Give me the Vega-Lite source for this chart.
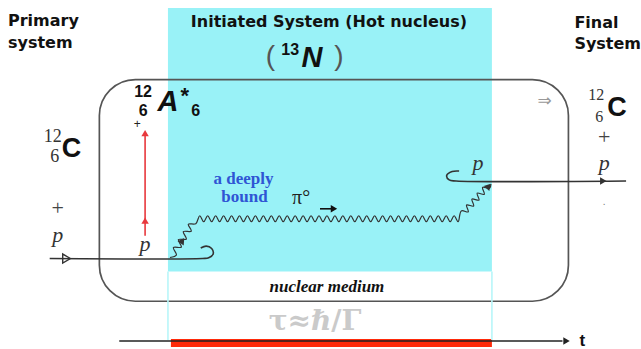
{
  "$schema": "https://vega.github.io/schema/vega-lite/v6.json",
  "width": 641,
  "height": 349,
  "autosize": {"type": "fit", "contains": "padding"},
  "padding": 0,
  "background": "white",
  "config": {"view": {"stroke": null}},
  "datasets": {
    "cyan": [{"x": 169, "x2": 495, "y": 8, "y2": 273}],
    "redbar": [{"x": 172, "x2": 495, "y": 341, "y2": 349}],
    "box": [{"x": 100, "x2": 572, "y": 80, "y2": 303}],
    "paths": [
      {"g": "cy1", "i": 0, "x": 169, "y": 273}, {"g": "cy1", "i": 1, "x": 169, "y": 342},
      {"g": "cy2", "i": 0, "x": 495, "y": 273}, {"g": "cy2", "i": 1, "x": 495, "y": 342},
      {"g": "inL", "i": 0, "x": 50, "y": 260}, {"g": "inL", "i": 1, "x": 204, "y": 260},
      {"g": "inL", "i": 2, "x": 210, "y": 259.3}, {"g": "inL", "i": 3, "x": 214.5, "y": 255.5},
      {"g": "inL", "i": 4, "x": 213, "y": 250}, {"g": "inL", "i": 5, "x": 207.5, "y": 247.5},
      {"g": "inL", "i": 6, "x": 202, "y": 249.5},
      {"g": "outR", "i": 0, "x": 462, "y": 172}, {"g": "outR", "i": 1, "x": 455, "y": 172.5},
      {"g": "outR", "i": 2, "x": 449.5, "y": 176.5}, {"g": "outR", "i": 3, "x": 452, "y": 181},
      {"g": "outR", "i": 4, "x": 459, "y": 182}, {"g": "outR", "i": 5, "x": 630, "y": 182},
      {"g": "time", "i": 0, "x": 120, "y": 343}, {"g": "time", "i": 1, "x": 566, "y": 343},
      {"g": "redA", "i": 0, "x": 146, "y": 133}, {"g": "redA", "i": 1, "x": 146, "y": 237},
      {"g": "piA", "i": 0, "x": 322, "y": 210}, {"g": "piA", "i": 1, "x": 334, "y": 210}
    ],
    "wave": [
      {"i": 0, "x": 171, "y": 259}, {"i": 1, "x": 177.5, "y": 256.5}, {"i": 2, "x": 174.5, "y": 249},
      {"i": 3, "x": 182.5, "y": 248.5}, {"i": 4, "x": 179.5, "y": 241}, {"i": 5, "x": 187.5, "y": 240.5},
      {"i": 6, "x": 184.5, "y": 233}, {"i": 7, "x": 192.5, "y": 232.5}, {"i": 8, "x": 189.5, "y": 225.5},
      {"i": 9, "x": 197, "y": 225},
      {"i": 10, "x": 201, "y": 217}, {"i": 11, "x": 205, "y": 223}, {"i": 12, "x": 209, "y": 217},
      {"i": 13, "x": 213, "y": 223}, {"i": 14, "x": 217, "y": 217}, {"i": 15, "x": 221, "y": 223},
      {"i": 16, "x": 225, "y": 217}, {"i": 17, "x": 229, "y": 223}, {"i": 18, "x": 233, "y": 217},
      {"i": 19, "x": 237, "y": 223}, {"i": 20, "x": 241, "y": 217}, {"i": 21, "x": 245, "y": 223},
      {"i": 22, "x": 249, "y": 217}, {"i": 23, "x": 253, "y": 223}, {"i": 24, "x": 257, "y": 217},
      {"i": 25, "x": 261, "y": 223}, {"i": 26, "x": 265, "y": 217}, {"i": 27, "x": 269, "y": 223},
      {"i": 28, "x": 273, "y": 217}, {"i": 29, "x": 277, "y": 223}, {"i": 30, "x": 281, "y": 217},
      {"i": 31, "x": 285, "y": 223}, {"i": 32, "x": 289, "y": 217}, {"i": 33, "x": 293, "y": 223},
      {"i": 34, "x": 297, "y": 217}, {"i": 35, "x": 301, "y": 223}, {"i": 36, "x": 305, "y": 217},
      {"i": 37, "x": 309, "y": 223}, {"i": 38, "x": 313, "y": 217}, {"i": 39, "x": 317, "y": 223},
      {"i": 40, "x": 321, "y": 217}, {"i": 41, "x": 325, "y": 223}, {"i": 42, "x": 329, "y": 217},
      {"i": 43, "x": 333, "y": 223}, {"i": 44, "x": 337, "y": 217}, {"i": 45, "x": 341, "y": 223},
      {"i": 46, "x": 345, "y": 217}, {"i": 47, "x": 349, "y": 223}, {"i": 48, "x": 353, "y": 217},
      {"i": 49, "x": 357, "y": 223}, {"i": 50, "x": 361, "y": 217}, {"i": 51, "x": 365, "y": 223},
      {"i": 52, "x": 369, "y": 217}, {"i": 53, "x": 373, "y": 223}, {"i": 54, "x": 377, "y": 217},
      {"i": 55, "x": 381, "y": 223}, {"i": 56, "x": 385, "y": 217}, {"i": 57, "x": 389, "y": 223},
      {"i": 58, "x": 393, "y": 217}, {"i": 59, "x": 397, "y": 223}, {"i": 60, "x": 401, "y": 217},
      {"i": 61, "x": 405, "y": 223}, {"i": 62, "x": 409, "y": 217}, {"i": 63, "x": 413, "y": 223},
      {"i": 64, "x": 417, "y": 217}, {"i": 65, "x": 421, "y": 223}, {"i": 66, "x": 425, "y": 217},
      {"i": 67, "x": 429, "y": 223}, {"i": 68, "x": 433, "y": 217}, {"i": 69, "x": 437, "y": 223},
      {"i": 70, "x": 441, "y": 217}, {"i": 71, "x": 445, "y": 223}, {"i": 72, "x": 449, "y": 217},
      {"i": 73, "x": 453, "y": 223}, {"i": 74, "x": 457, "y": 217},
      {"i": 75, "x": 461, "y": 223}, {"i": 76, "x": 464.2, "y": 212.1}, {"i": 77, "x": 471.2, "y": 213.1},
      {"i": 78, "x": 469.5, "y": 206.2}, {"i": 79, "x": 476.6, "y": 207.2}, {"i": 80, "x": 474.9, "y": 200.2},
      {"i": 81, "x": 482, "y": 201.3}, {"i": 82, "x": 480.2, "y": 194.3}, {"i": 83, "x": 487.3, "y": 195.4},
      {"i": 84, "x": 485.6, "y": 188.4}, {"i": 85, "x": 492.7, "y": 189.4}, {"i": 86, "x": 494, "y": 185}
    ],
    "heads": [
      {"g": "outR", "x": 606, "y": 182, "dir": 90},
      {"g": "time", "x": 569, "y": 343, "dir": 90},
      {"g": "piA", "x": 335, "y": 210, "dir": 90},
      {"g": "redA", "x": 146, "y": 135, "dir": 0},
      {"g": "redA", "x": 146, "y": 223, "dir": 0},
      {"g": "inL", "x": 183, "y": 243, "dir": 34},
      {"g": "inL", "x": 491, "y": 188, "dir": 41}
    ],
    "openhead": [{"x": 67, "y": 260}],
    "head": [
      {"x": 8, "y": 26, "t": "Primary"},
      {"x": 8, "y": 48, "t": "system"},
      {"x": 578, "y": 28, "t": "Final"},
      {"x": 578, "y": 49, "t": "System"},
      {"x": 192, "y": 27, "t": "Initiated System (Hot nucleus)"}
    ],
    "bigC": [{"x": 72, "y": 158, "t": "C"}, {"x": 621, "y": 117, "t": "C"}],
    "bigIt": [{"x": 169, "y": 112, "t": "A"}, {"x": 314, "y": 67, "t": "N"}],
    "smallNum": [
      {"x": 144, "y": 98, "t": "12"}, {"x": 144, "y": 117, "t": "6"},
      {"x": 197, "y": 117, "t": "6"}, {"x": 292, "y": 55, "t": "13"}
    ],
    "star": [{"x": 186, "y": 104, "t": "*"}],
    "serifNumL": [{"x": 53, "y": 143, "t": "12"}, {"x": 55, "y": 163, "t": "6"}],
    "serifNumR": [{"x": 600, "y": 101, "t": "12"}, {"x": 603, "y": 123, "t": "6"}],
    "plus": [{"x": 58, "y": 209, "t": "+"}, {"x": 608, "y": 138, "t": "+"}],
    "smallPlus": [{"x": 138, "y": 125, "t": "+"}],
    "pit": [
      {"x": 58, "y": 243, "t": "p"}, {"x": 146, "y": 252, "t": "p"},
      {"x": 481, "y": 171, "t": "p"}, {"x": 608, "y": 171, "t": "p"}
    ],
    "blue": [{"x": 245, "y": 185, "t": "a deeply"}, {"x": 246, "y": 203, "t": "bound"}],
    "pi": [{"x": 303, "y": 205, "t": "π°"}],
    "paren": [{"x": 272, "y": 57, "t": "("}, {"x": 341, "y": 57, "t": ")"}],
    "medium": [{"x": 329, "y": 294, "t": "nuclear   medium"}],
    "tau": [{"x": 317, "y": 332, "t": "τ≈ℏ/Γ"}],
    "imp": [{"x": 548, "y": 102, "t": "⇒"}],
    "tlab": [{"x": 586, "y": 343, "t": "t"}],
    "dot": [{"x": 608, "y": 203, "t": "."}]
  },
  "layer": [
    {
      "data": {"name": "cyan"},
      "mark": {"type": "rect", "color": "#99f2f7"},
      "encoding": {
        "x": {"field": "x", "type": "quantitative", "scale": {"domain": [0, 641], "nice": false, "zero": false}, "axis": null},
        "x2": {"field": "x2"},
        "y": {"field": "y", "type": "quantitative", "scale": {"domain": [0, 349], "nice": false, "zero": false, "reverse": true}, "axis": null},
        "y2": {"field": "y2"}
      }
    },
    {
      "data": {"name": "redbar"},
      "mark": {"type": "rect", "color": "#ff2a0a"},
      "encoding": {
        "x": {"field": "x", "type": "quantitative", "axis": null},
        "x2": {"field": "x2"},
        "y": {"field": "y", "type": "quantitative", "axis": null},
        "y2": {"field": "y2"}
      }
    },
    {
      "data": {"name": "box"},
      "mark": {"type": "rect", "filled": false, "stroke": "#555555", "strokeWidth": 1.7, "cornerRadius": 36},
      "encoding": {
        "x": {"field": "x", "type": "quantitative", "axis": null},
        "x2": {"field": "x2"},
        "y": {"field": "y", "type": "quantitative", "axis": null},
        "y2": {"field": "y2"}
      }
    },
    {
      "data": {"name": "paths"},
      "mark": {"type": "line", "interpolate": "catmull-rom", "strokeWidth": 1.6},
      "encoding": {
        "x": {"field": "x", "type": "quantitative", "axis": null},
        "y": {"field": "y", "type": "quantitative", "axis": null},
        "detail": {"field": "g", "type": "nominal"},
        "order": {"field": "i", "type": "quantitative"},
        "color": {"field": "g", "type": "nominal", "legend": null,
          "scale": {"domain": ["cy1", "cy2", "inL", "outR", "time", "redA", "piA"],
                    "range": ["#b8f6f9", "#b8f6f9", "#333333", "#333333", "#222222", "#e8383d", "#111111"]}}
      }
    },
    {
      "data": {"name": "wave"},
      "mark": {"type": "line", "interpolate": "catmull-rom", "strokeWidth": 1.2, "color": "#333333"},
      "encoding": {
        "x": {"field": "x", "type": "quantitative", "axis": null},
        "y": {"field": "y", "type": "quantitative", "axis": null},
        "order": {"field": "i", "type": "quantitative"}
      }
    },
    {
      "data": {"name": "heads"},
      "mark": {"type": "point", "shape": "triangle", "filled": true, "size": 55, "opacity": 1},
      "encoding": {
        "x": {"field": "x", "type": "quantitative", "axis": null},
        "y": {"field": "y", "type": "quantitative", "axis": null},
        "angle": {"field": "dir", "type": "quantitative", "scale": null},
        "color": {"field": "g", "type": "nominal", "legend": null}
      }
    },
    {
      "data": {"name": "openhead"},
      "mark": {"type": "point", "shape": "triangle-right", "filled": false, "size": 80, "color": "#333333", "strokeWidth": 1.4, "opacity": 1},
      "encoding": {
        "x": {"field": "x", "type": "quantitative", "axis": null},
        "y": {"field": "y", "type": "quantitative", "axis": null}
      }
    },
    {
      "data": {"name": "head"},
      "mark": {"type": "text", "align": "left", "baseline": "alphabetic", "font": "DejaVu Sans", "fontWeight": "bold", "fontSize": 16, "color": "#111111"},
      "encoding": {
        "x": {"field": "x", "type": "quantitative", "axis": null},
        "y": {"field": "y", "type": "quantitative", "axis": null},
        "text": {"field": "t"}
      }
    },
    {
      "data": {"name": "bigC"},
      "mark": {"type": "text", "align": "center", "baseline": "alphabetic", "font": "Liberation Sans", "fontWeight": "bold", "fontSize": 27, "color": "#111111"},
      "encoding": {
        "x": {"field": "x", "type": "quantitative", "axis": null},
        "y": {"field": "y", "type": "quantitative", "axis": null},
        "text": {"field": "t"}
      }
    },
    {
      "data": {"name": "bigIt"},
      "mark": {"type": "text", "align": "center", "baseline": "alphabetic", "font": "Liberation Sans", "fontWeight": "bold", "fontStyle": "italic", "fontSize": 29, "color": "#111111"},
      "encoding": {
        "x": {"field": "x", "type": "quantitative", "axis": null},
        "y": {"field": "y", "type": "quantitative", "axis": null},
        "text": {"field": "t"}
      }
    },
    {
      "data": {"name": "smallNum"},
      "mark": {"type": "text", "align": "center", "baseline": "alphabetic", "font": "Liberation Sans", "fontWeight": "bold", "fontSize": 16, "color": "#111111"},
      "encoding": {
        "x": {"field": "x", "type": "quantitative", "axis": null},
        "y": {"field": "y", "type": "quantitative", "axis": null},
        "text": {"field": "t"}
      }
    },
    {
      "data": {"name": "star"},
      "mark": {"type": "text", "align": "center", "baseline": "alphabetic", "font": "Liberation Sans", "fontWeight": "bold", "fontSize": 22, "color": "#111111"},
      "encoding": {
        "x": {"field": "x", "type": "quantitative", "axis": null},
        "y": {"field": "y", "type": "quantitative", "axis": null},
        "text": {"field": "t"}
      }
    },
    {
      "data": {"name": "serifNumL"},
      "mark": {"type": "text", "align": "center", "baseline": "alphabetic", "font": "Liberation Serif", "fontSize": 18, "color": "#333333"},
      "encoding": {
        "x": {"field": "x", "type": "quantitative", "axis": null},
        "y": {"field": "y", "type": "quantitative", "axis": null},
        "text": {"field": "t"}
      }
    },
    {
      "data": {"name": "serifNumR"},
      "mark": {"type": "text", "align": "center", "baseline": "alphabetic", "font": "Liberation Serif", "fontSize": 16, "color": "#333333"},
      "encoding": {
        "x": {"field": "x", "type": "quantitative", "axis": null},
        "y": {"field": "y", "type": "quantitative", "axis": null},
        "text": {"field": "t"}
      }
    },
    {
      "data": {"name": "plus"},
      "mark": {"type": "text", "align": "center", "baseline": "middle", "font": "Liberation Serif", "fontSize": 22, "color": "#444444"},
      "encoding": {
        "x": {"field": "x", "type": "quantitative", "axis": null},
        "y": {"field": "y", "type": "quantitative", "axis": null},
        "text": {"field": "t"}
      }
    },
    {
      "data": {"name": "smallPlus"},
      "mark": {"type": "text", "align": "center", "baseline": "middle", "font": "Liberation Sans", "fontSize": 12, "color": "#222222"},
      "encoding": {
        "x": {"field": "x", "type": "quantitative", "axis": null},
        "y": {"field": "y", "type": "quantitative", "axis": null},
        "text": {"field": "t"}
      }
    },
    {
      "data": {"name": "pit"},
      "mark": {"type": "text", "align": "center", "baseline": "alphabetic", "font": "Liberation Serif", "fontStyle": "italic", "fontSize": 22, "color": "#333333"},
      "encoding": {
        "x": {"field": "x", "type": "quantitative", "axis": null},
        "y": {"field": "y", "type": "quantitative", "axis": null},
        "text": {"field": "t"}
      }
    },
    {
      "data": {"name": "blue"},
      "mark": {"type": "text", "align": "center", "baseline": "alphabetic", "font": "Liberation Serif", "fontWeight": "bold", "fontSize": 17, "color": "#2f55d4"},
      "encoding": {
        "x": {"field": "x", "type": "quantitative", "axis": null},
        "y": {"field": "y", "type": "quantitative", "axis": null},
        "text": {"field": "t"}
      }
    },
    {
      "data": {"name": "pi"},
      "mark": {"type": "text", "align": "center", "baseline": "alphabetic", "font": "Liberation Serif", "fontSize": 20, "color": "#222222"},
      "encoding": {
        "x": {"field": "x", "type": "quantitative", "axis": null},
        "y": {"field": "y", "type": "quantitative", "axis": null},
        "text": {"field": "t"}
      }
    },
    {
      "data": {"name": "paren"},
      "mark": {"type": "text", "align": "center", "baseline": "middle", "font": "Liberation Sans", "fontSize": 28, "color": "#555555"},
      "encoding": {
        "x": {"field": "x", "type": "quantitative", "axis": null},
        "y": {"field": "y", "type": "quantitative", "axis": null},
        "text": {"field": "t"}
      }
    },
    {
      "data": {"name": "medium"},
      "mark": {"type": "text", "align": "center", "baseline": "alphabetic", "font": "Liberation Serif", "fontWeight": "bold", "fontStyle": "italic", "fontSize": 17, "color": "#111111"},
      "encoding": {
        "x": {"field": "x", "type": "quantitative", "axis": null},
        "y": {"field": "y", "type": "quantitative", "axis": null},
        "text": {"field": "t"}
      }
    },
    {
      "data": {"name": "tau"},
      "mark": {"type": "text", "align": "center", "baseline": "alphabetic", "font": "DejaVu Serif", "fontWeight": "bold", "fontSize": 28, "color": "#cacaca"},
      "encoding": {
        "x": {"field": "x", "type": "quantitative", "axis": null},
        "y": {"field": "y", "type": "quantitative", "axis": null},
        "text": {"field": "t"}
      }
    },
    {
      "data": {"name": "imp"},
      "mark": {"type": "text", "align": "center", "baseline": "middle", "font": "DejaVu Sans", "fontSize": 17, "color": "#999999"},
      "encoding": {
        "x": {"field": "x", "type": "quantitative", "axis": null},
        "y": {"field": "y", "type": "quantitative", "axis": null},
        "text": {"field": "t"}
      }
    },
    {
      "data": {"name": "tlab"},
      "mark": {"type": "text", "align": "center", "baseline": "middle", "font": "Liberation Sans", "fontWeight": "bold", "fontSize": 17, "color": "#111111"},
      "encoding": {
        "x": {"field": "x", "type": "quantitative", "axis": null},
        "y": {"field": "y", "type": "quantitative", "axis": null},
        "text": {"field": "t"}
      }
    },
    {
      "data": {"name": "dot"},
      "mark": {"type": "text", "align": "center", "baseline": "middle", "font": "Liberation Sans", "fontSize": 10, "color": "#777777"},
      "encoding": {
        "x": {"field": "x", "type": "quantitative", "axis": null},
        "y": {"field": "y", "type": "quantitative", "axis": null},
        "text": {"field": "t"}
      }
    }
  ]
}
